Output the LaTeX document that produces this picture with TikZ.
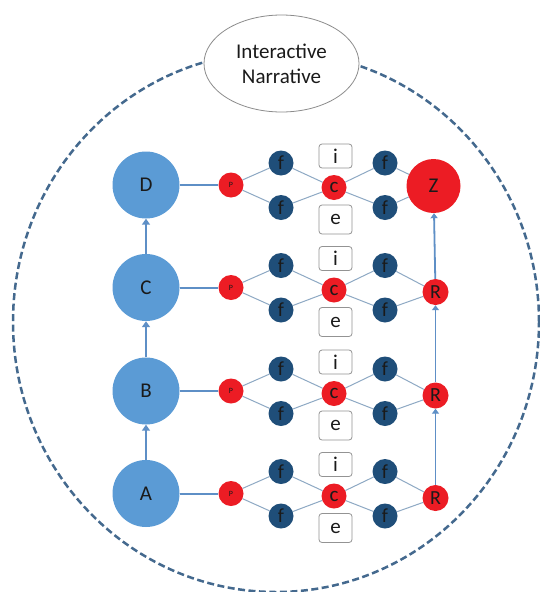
\documentclass[tikz,border=0pt]{standalone}
\usepackage{fontspec}
\setmainfont{Carlito}
\usetikzlibrary{shapes.geometric,arrows.meta}
\definecolor{bigblue}{HTML}{5B9BD5}
\definecolor{fblue}{HTML}{1F4E79}
\definecolor{nred}{HTML}{EC1C24}
\definecolor{dashblue}{HTML}{44698E}
\definecolor{thinline}{HTML}{8EA9C4}
\definecolor{linkblue}{HTML}{5E8FC6}
\definecolor{txt}{HTML}{1A1A1A}
\tikzset{
  bignode/.style={circle, fill=bigblue, minimum size=67pt, inner sep=0pt, text=txt, font=\fontsize{21}{24}\selectfont},
  pnode/.style={circle, fill=nred, minimum size=25pt, inner sep=0pt, text=txt, font=\fontsize{8}{9}\selectfont},
  fnode/.style={circle, fill=fblue, minimum size=25pt, inner sep=0pt, text=txt, font=\fontsize{20}{22}\selectfont},
  cnode/.style={circle, fill=nred, minimum size=25pt, inner sep=0pt, text=txt, font=\fontsize{21}{22}\selectfont},
  rnode/.style={circle, fill=nred, minimum size=26pt, inner sep=0pt, text=txt, font=\fontsize{20}{22}\selectfont},
  znode/.style={circle, fill=nred, minimum size=54pt, inner sep=0pt, text=txt, font=\fontsize{21}{22}\selectfont},
  ibox/.style={rectangle, rounded corners=3pt, draw=gray!85, line width=0.8pt, fill=white, minimum width=33pt, minimum height=24pt, inner sep=0pt, text=txt, font=\fontsize{21}{22}\selectfont},
  ebox/.style={ibox, minimum height=29pt},
  thin/.style={draw=thinline, line width=1pt},
  hlink/.style={draw=linkblue, line width=2pt},
  uparrow/.style={draw=linkblue, line width=2.4pt, -{Triangle[width=8pt,length=6pt]}},
  rarrow/.style={draw=linkblue, line width=1.8pt, -{Triangle[width=7pt,length=5pt]}},
}
\begin{document}
\begin{tikzpicture}[x=1pt,y=-1pt]
\useasboundingbox (0,0) rectangle (539,592);
\fill[white] (0,0) rectangle (539,592);
% outer dashed boundary
\draw[dashblue, line width=2.5pt, dash pattern=on 7pt off 3.5pt] (276,322) ellipse [x radius=263pt, y radius=270pt];
% title ellipse
\node[ellipse, draw=gray!90, line width=0.8pt, fill=white, minimum width=155pt, minimum height=97pt, inner sep=0pt, align=center, text=txt, font=\fontsize{21}{25}\selectfont] (IN) at (281.5,63.5) {Interactive\\Narrative};

% rows
\foreach \r/\lab/\yr in {d/D/185, c/C/287.5, b/B/391, a/A/493.5}{
  \node[bignode] (B\r) at (146,\yr) {\lab};
  \node[pnode] (P\r) at (231,\yr) {P};
  \node[fnode] (fu\r) at (281,\yr-22) {f};
  \node[fnode] (fd\r) at (281,\yr+22.5) {f};
  \node[cnode] (c\r) at (334,\yr+2.5) {c};
  \node[ibox] (i\r) at (335.5,\yr-29) {i};
  \node[ebox] (e\r) at (335.5,\yr+34.5) {e};
  \node[fnode] (gu\r) at (385,\yr-22) {f};
  \node[fnode] (gd\r) at (385,\yr+22.5) {f};
}
\node[rnode] (Rc) at (435.5,292) {R};
\node[rnode] (Rb) at (435.5,395.5) {R};
\node[rnode] (Ra) at (435.5,498) {R};
\node[znode] (Z) at (433.5,186) {Z};

% connectors
\foreach \r in {d,c,b,a}{
  \draw[hlink] (B\r) -- (P\r);
  \draw[thin] (P\r) -- (fu\r);
  \draw[thin] (P\r) -- (fd\r);
  \draw[thin] (fu\r) -- (c\r);
  \draw[thin] (fd\r) -- (c\r);
  \draw[thin] (c\r) -- (gu\r);
  \draw[thin] (c\r) -- (gd\r);
}
\foreach \r in {c,b,a}{
  \draw[thin] (gu\r) -- (R\r);
  \draw[thin] (gd\r) -- (R\r);
}
\draw[thin] (gud) -- (Z);
\draw[thin] (gdd) -- (Z);

\draw[uparrow] (Ba) -- (Bb);
\draw[uparrow] (Bb) -- (Bc);
\draw[uparrow] (Bc) -- (Bd);
\draw[rarrow] (Ra) -- (Rb);
\draw[rarrow] (Rb) -- (Rc);
\draw[rarrow] (Rc) -- (Z);
\end{tikzpicture}
\end{document}
